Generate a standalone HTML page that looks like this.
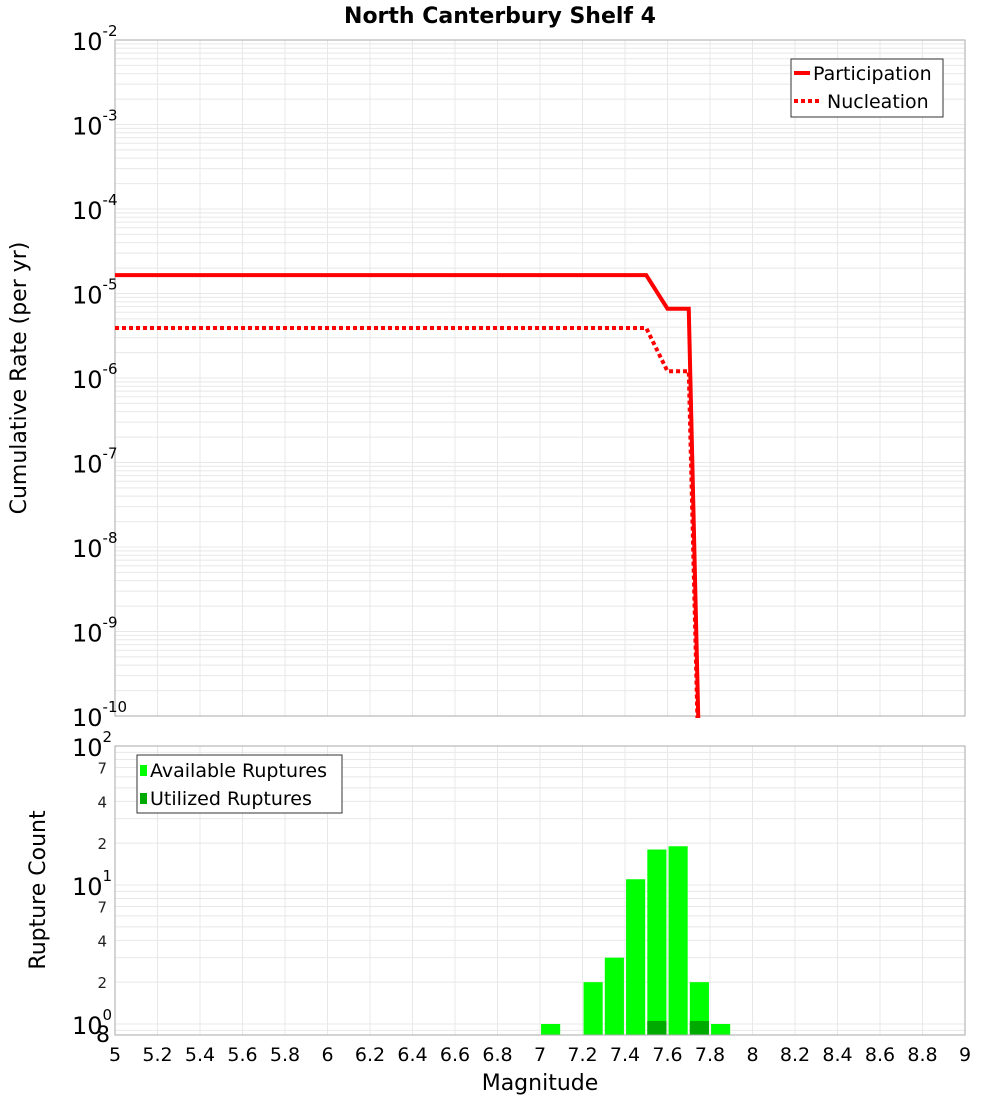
<!DOCTYPE html>
<html><head><meta charset="utf-8"><style>
body{margin:0;background:#fff;font-family:"Liberation Sans","DejaVu Sans",sans-serif}
svg text{font-family:"DejaVu Sans","Liberation Sans",sans-serif}
</style></head><body>
<svg id="c" width="1000" height="1100" xmlns="http://www.w3.org/2000/svg">
<rect width="1000" height="1100" fill="#fff"/>
<text x="500" y="23" text-anchor="middle" font-size="22" font-weight="bold">North Canterbury Shelf 4</text>
<defs><clipPath id="cp"><rect x="115" y="40" width="850" height="678"/></clipPath></defs>
<g id="topG"></g><g id="botG"></g>
</svg>
<script>
const mags=[5,5.1,5.2,5.3,5.4,5.5,5.6,5.7,5.8,5.9,6,6.1,6.2,6.3,6.4,6.5,6.6,6.7,6.8,6.9,7,7.1,7.2,7.3,7.4,7.5,7.6,7.7,7.8];
const partRates=[1.65e-5,1.65e-5,1.65e-5,1.65e-5,1.65e-5,1.65e-5,1.65e-5,1.65e-5,1.65e-5,1.65e-5,1.65e-5,1.65e-5,1.65e-5,1.65e-5,1.65e-5,1.65e-5,1.65e-5,1.65e-5,1.65e-5,1.65e-5,1.65e-5,1.65e-5,1.65e-5,1.65e-5,1.65e-5,1.65e-5,6.6e-6,6.6e-6,1e-16];
const nuclRates=[3.9e-6,3.9e-6,3.9e-6,3.9e-6,3.9e-6,3.9e-6,3.9e-6,3.9e-6,3.9e-6,3.9e-6,3.9e-6,3.9e-6,3.9e-6,3.9e-6,3.9e-6,3.9e-6,3.9e-6,3.9e-6,3.9e-6,3.9e-6,3.9e-6,3.9e-6,3.9e-6,3.9e-6,3.9e-6,3.9e-6,1.2e-6,1.2e-6,1e-16];
const binMags=[7.05,7.25,7.35,7.45,7.55,7.65,7.75,7.85];
const availCounts=[1,2,3,11,18,19,2,1];
const usedMags=[7.55,7.75];
const usedCounts=[1,1];
const xTicks=[5,5.2,5.4,5.6,5.8,6,6.2,6.4,6.6,6.8,7,7.2,7.4,7.6,7.8,8,8.2,8.4,8.6,8.8,9];
const topExps=[-2,-3,-4,-5,-6,-7,-8,-9,-10];
{
const NS='http://www.w3.org/2000/svg';
const X0=115,X1=965,T0=40,T1=716,B0=746,B1=1035;
const xs=m=>X0+(m-5)/4*(X1-X0);
const yt=v=>T0+(-2-Math.log10(v))/8*(T1-T0);
const yb=v=>1024-Math.log10(v)*139;
function mk(p,tag,a){const e=document.createElementNS(NS,tag);for(const k in a)e.setAttribute(k,a[k]);p.appendChild(e);return e;}
const gTop=document.getElementById('topG'),gBot=document.getElementById('botG');
for(let d=-10;d<-2;d++)for(let k=1;k<10;k++){const y=yt(k*Math.pow(10,d));const l=mk(gTop,'line',{x1:X0,x2:X1,y1:y,y2:y,stroke:'#e8e8e8','stroke-width':1});}
xTicks.forEach(m=>{for(const [g,a,b] of [[gTop,T0,T1],[gBot,B0,B1]]){const l=mk(g,'line',{x1:xs(m),x2:xs(m),y1:a,y2:b,stroke:'#e8e8e8'});}});
const tf=mk(gTop,'rect',{x:X0,y:T0,width:X1-X0,height:T1-T0,fill:'none',stroke:'#aaa'});

topExps.forEach(e=>{const y=yt(Math.pow(10,e));const t=mk(gTop,'text',{x:72,y:y+10,'font-size':24});t.textContent='10';const s=mk(t,'tspan',{dy:-14,'font-size':15});s.textContent=String(e);});
function pathOf(vals){return mags.map((m,i)=>(i?'L':'M')+xs(m)+','+Math.min(yt(vals[i]),3000)).join(' ');}
const p1=mk(gTop,'path',{d:pathOf(partRates),fill:'none',stroke:'#f00','stroke-width':4,'clip-path':'url(#cp)'});

const p2=mk(gTop,'path',{d:pathOf(nuclRates),fill:'none',stroke:'#f00','stroke-width':4,'stroke-dasharray':'4 3','clip-path':'url(#cp)'});

const yl=mk(gTop,'text',{x:0,y:0,'font-size':22,'text-anchor':'middle',transform:'translate(26,378) rotate(-90)'});
yl.textContent='Cumulative Rate (per yr)';
const lg=mk(gTop,'g',{});
mk(lg,'rect',{x:791,y:59,width:152,height:58,fill:'#fff',stroke:'#333'});
mk(lg,'line',{x1:794,x2:810,y1:73,y2:73,stroke:'#f00','stroke-width':4});
mk(lg,'line',{x1:794,x2:822,y1:101,y2:101,stroke:'#f00','stroke-width':4,'stroke-dasharray':'4 3'});
let t=mk(lg,'text',{x:813,y:80,'font-size':19});t.textContent='Participation';
t=mk(lg,'text',{x:827,y:108,'font-size':19});t.textContent='Nucleation';
for(let d=-1;d<2;d++)for(let k=1;k<10;k++){const v=k*Math.pow(10,d);const y=yb(v);if(y<B0||y>B1)continue;const l=mk(gBot,'line',{x1:X0,x2:X1,y1:y,y2:y,stroke:'#e8e8e8'});}
binMags.forEach((m,i)=>{const r=mk(gBot,'rect',{x:xs(m-0.045),y:yb(availCounts[i]),width:xs(m+0.045)-xs(m-0.045),height:B1-yb(availCounts[i]),fill:'#00ff00'});});
usedMags.forEach((m,i)=>{const r=mk(gBot,'rect',{x:xs(m-0.045),y:yb(usedCounts[i])-3,width:xs(m+0.045)-xs(m-0.045),height:B1-yb(usedCounts[i])+3,fill:'#00aa00'});});
const bf=mk(gBot,'rect',{x:X0,y:B0,width:X1-X0,height:B1-B0,fill:'none',stroke:'#aaa'});

[0,1,2].forEach(e=>{const y=yb(Math.pow(10,e));const t=mk(gBot,'text',{x:72,y:y+10,'font-size':24});t.textContent='10';const s=mk(t,'tspan',{dy:-14,'font-size':15});s.textContent=String(e);});
[[7,1],[4,1],[2,1],[7,0],[4,0],[2,0]].forEach(([k,d])=>{const y=yb(k*Math.pow(10,d));const t=mk(gBot,'text',{x:107,y:y+6,'font-size':15,'text-anchor':'end',fill:'#222'});t.textContent=k;});
t=mk(gBot,'text',{x:96,y:1042,'font-size':22});t.textContent='8';
const bl=mk(gBot,'text',{x:0,y:0,'font-size':22,'text-anchor':'middle',transform:'translate(45,890) rotate(-90)'});
bl.textContent='Rupture Count';
xTicks.forEach(m=>{const t=mk(gBot,'text',{x:xs(m),y:1061,'font-size':19,'text-anchor':'middle'});t.textContent=String(m);});
const xl=mk(gBot,'text',{x:540,y:1090,'font-size':22,'text-anchor':'middle'});
xl.textContent='Magnitude';
const lg2=mk(gBot,'g',{});
mk(lg2,'rect',{x:137,y:755,width:205,height:58,fill:'#fff',stroke:'#333'});
mk(lg2,'rect',{x:140,y:765,width:7,height:11,fill:'#00ff00'});
mk(lg2,'rect',{x:140,y:793,width:7,height:11,fill:'#00aa00'});
t=mk(lg2,'text',{x:150,y:777,'font-size':19});t.textContent='Available Ruptures';
t=mk(lg2,'text',{x:150,y:805,'font-size':19});t.textContent='Utilized Ruptures';
}
</script>
</body></html>
